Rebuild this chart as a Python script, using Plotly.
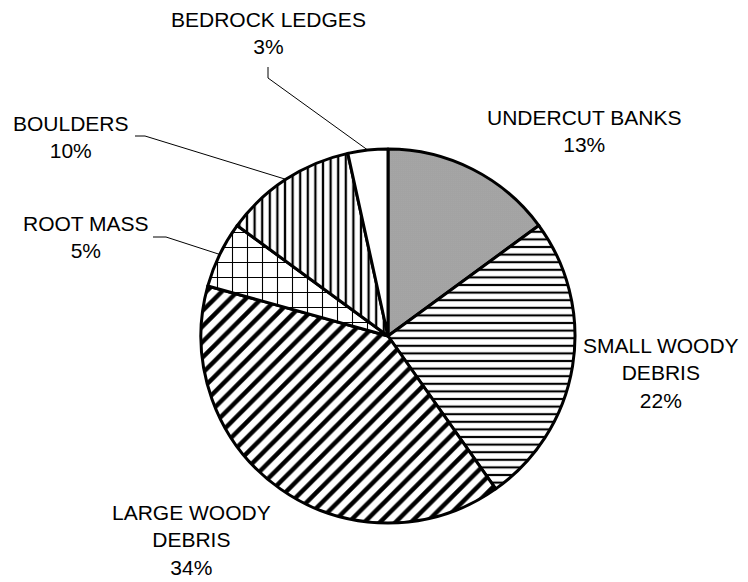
import math
import plotly.graph_objects as go

# ---- data ----
categories = ["UNDERCUT BANKS", "SMALL WOODY<br>DEBRIS", "LARGE WOODY<br>DEBRIS",
              "ROOT MASS", "BOULDERS", "BEDROCK LEDGES"]
values = [13, 22, 34, 5, 10, 3]
pct_labels = ["13%", "22%", "34%", "5%", "10%", "3%"]

# ---- layout constants ----
W, H = 748, 582
CX, CY, R = 388, 336, 187
FONT = dict(family="Liberation Sans, Arial, sans-serif", size=21, color="black")

shapes_pat = [".", "-", "/", "+", "|", ""]
sizes_pat = [2, 7.6, 11, 15, 7.6, 8]
solid_pat = [0.75, 0.28, 0.4, 0.14, 0.3, 0.2]
fg_pat = ["#858585", "black", "black", "black", "black", "black"]

# label centres (px) and whether a leader line is drawn
label_pos = [(584, 131), (661, 373), (191, 540), (86, 237), (71, 137), (268, 33)]
leader_start = [None, None, None, (153, 237), (135, 136), (268, 67)]
leader_knee = [None, None, None, (166, 237), (145, 136), (268, 78)]


def px(x):
    return x / W


def py(y):
    return 1 - y / H


fig = go.Figure(go.Pie(
    values=values,
    labels=categories,
    sort=False,
    direction="clockwise",
    rotation=0,
    textinfo="none",
    hoverinfo="label+value",
    showlegend=False,
    domain=dict(x=[px(CX - R), px(CX + R)], y=[py(CY + R), py(CY - R)]),
    marker=dict(
        colors=["white"] * len(values),
        line=dict(color="black", width=3),
        pattern=dict(shape=shapes_pat, size=sizes_pat, solidity=solid_pat,
                     fgcolor=fg_pat, bgcolor="white", fillmode="replace"),
    ),
))

# leader lines computed from slice mid-angles
total = sum(values)
cum = 0
shapes = []
annotations = []
for i, v in enumerate(values):
    mid = (cum + v / 2) / total * 2 * math.pi
    cum += v
    ex = CX + R * math.sin(mid)
    ey = CY - R * math.cos(mid)
    if leader_start[i] is not None:
        sx, sy = leader_start[i]
        kx, ky = leader_knee[i]
        path = f"M {px(sx)} {py(sy)} L {px(kx)} {py(ky)} L {px(ex)} {py(ey)}"
        shapes.append(dict(type="path", path=path, xref="paper", yref="paper",
                           line=dict(color="black", width=1)))
    lx, ly = label_pos[i]
    annotations.append(dict(
        text=f"{categories[i]}<br>{pct_labels[i]}",
        x=px(lx), y=py(ly), xref="paper", yref="paper",
        xanchor="center", yanchor="middle", showarrow=False,
        align="center", font=FONT,
    ))

fig.update_layout(
    width=W, height=H,
    margin=dict(l=0, r=0, t=0, b=0),
    paper_bgcolor="white", plot_bgcolor="white",
    shapes=shapes, annotations=annotations,
    font=FONT,
)

fig.write_html("out.html")
